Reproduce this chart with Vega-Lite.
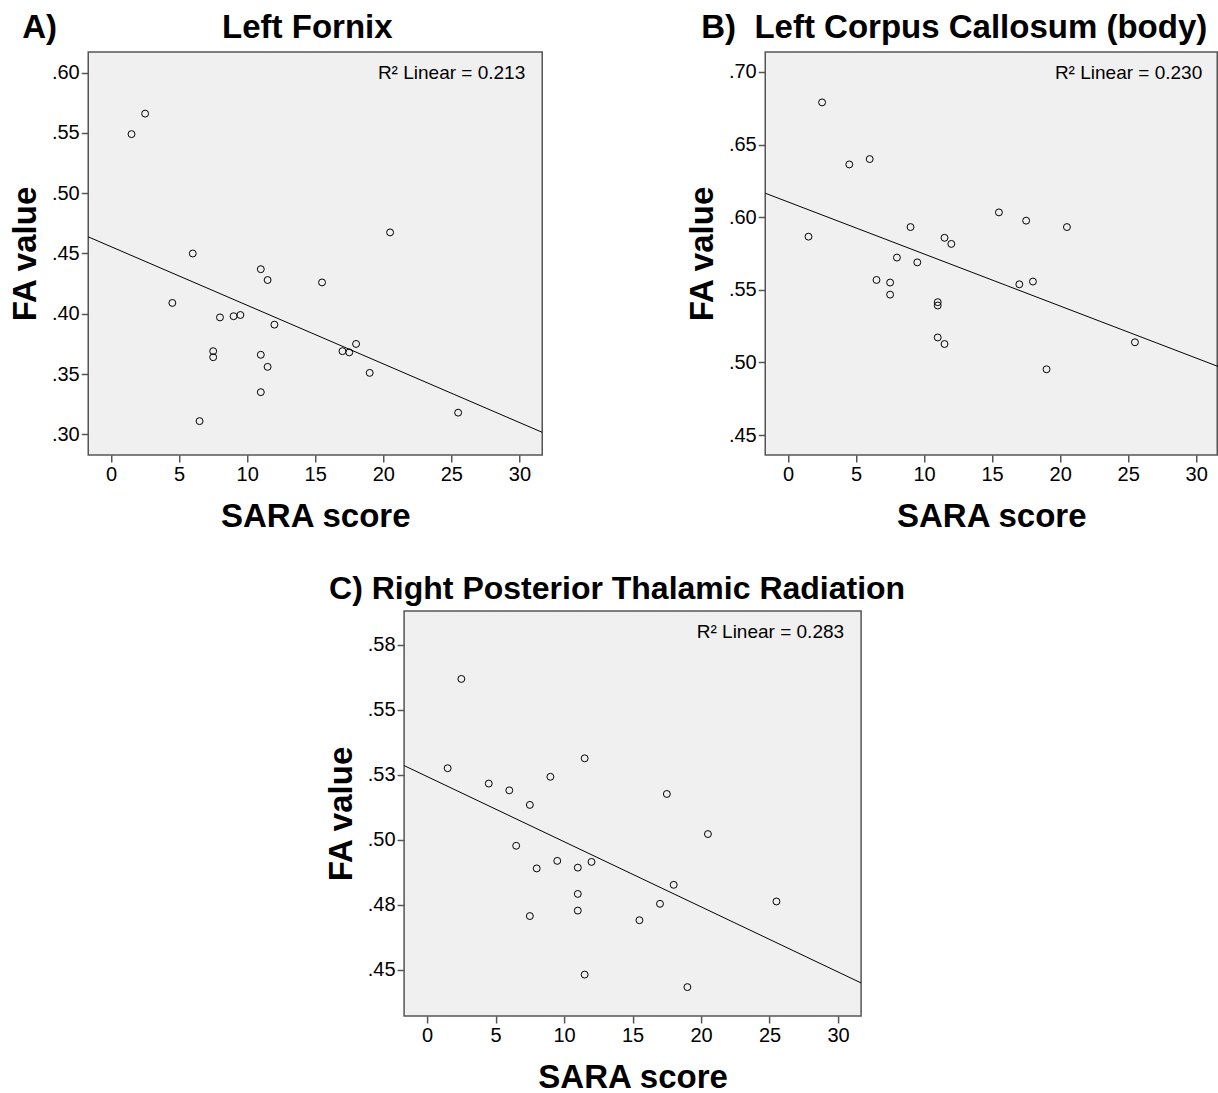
{
  "$schema": "https://vega.github.io/schema/vega-lite/v6.json",
  "background": "white",
  "padding": {"left": 8, "top": 11, "right": 0, "bottom": 0},
  "datasets": {
    "A_pts": [
      {"sara": 1.5, "fa": 0.549}, {"sara": 2.5, "fa": 0.566}, {"sara": 4.5, "fa": 0.409},
      {"sara": 6.0, "fa": 0.450}, {"sara": 6.5, "fa": 0.311}, {"sara": 7.5, "fa": 0.369},
      {"sara": 7.5, "fa": 0.364}, {"sara": 8.0, "fa": 0.397}, {"sara": 9.0, "fa": 0.398},
      {"sara": 9.5, "fa": 0.399}, {"sara": 11.0, "fa": 0.437}, {"sara": 11.5, "fa": 0.428},
      {"sara": 11.0, "fa": 0.366}, {"sara": 11.5, "fa": 0.356}, {"sara": 11.0, "fa": 0.335},
      {"sara": 12.0, "fa": 0.391}, {"sara": 15.5, "fa": 0.426}, {"sara": 17.0, "fa": 0.369},
      {"sara": 17.5, "fa": 0.368}, {"sara": 18.0, "fa": 0.375}, {"sara": 19.0, "fa": 0.351},
      {"sara": 20.5, "fa": 0.4675}, {"sara": 25.5, "fa": 0.318}
    ],
    "A_line": [{"sara": -1.68, "fa": 0.4638}, {"sara": 31.68, "fa": 0.3017}],
    "A_r2": [{"label": "R² Linear = 0.213"}],
    "B_pts": [
      {"sara": 1.5, "fa": 0.5866}, {"sara": 2.5, "fa": 0.679}, {"sara": 4.5, "fa": 0.6363},
      {"sara": 6.0, "fa": 0.640}, {"sara": 6.5, "fa": 0.5568}, {"sara": 7.5, "fa": 0.555},
      {"sara": 7.5, "fa": 0.5467}, {"sara": 8.0, "fa": 0.5722}, {"sara": 9.0, "fa": 0.5932},
      {"sara": 9.5, "fa": 0.5689}, {"sara": 11.0, "fa": 0.5415}, {"sara": 11.0, "fa": 0.5392},
      {"sara": 11.0, "fa": 0.5172}, {"sara": 11.5, "fa": 0.5127}, {"sara": 11.5, "fa": 0.5858},
      {"sara": 12.0, "fa": 0.5816}, {"sara": 15.5, "fa": 0.6033}, {"sara": 17.0, "fa": 0.5538},
      {"sara": 17.5, "fa": 0.5976}, {"sara": 18.0, "fa": 0.5557}, {"sara": 19.0, "fa": 0.4953},
      {"sara": 20.5, "fa": 0.5932}, {"sara": 25.5, "fa": 0.5139}
    ],
    "B_line": [{"sara": -1.68, "fa": 0.6165}, {"sara": 31.68, "fa": 0.497}],
    "B_r2": [{"label": "R² Linear = 0.230"}],
    "C_pts": [
      {"sara": 1.5, "fa": 0.5275}, {"sara": 2.5, "fa": 0.5618}, {"sara": 4.5, "fa": 0.5216},
      {"sara": 6.0, "fa": 0.519}, {"sara": 6.5, "fa": 0.4977}, {"sara": 7.5, "fa": 0.5134},
      {"sara": 7.5, "fa": 0.4707}, {"sara": 8.0, "fa": 0.489}, {"sara": 9.0, "fa": 0.5242},
      {"sara": 9.5, "fa": 0.4919}, {"sara": 11.0, "fa": 0.4893}, {"sara": 11.0, "fa": 0.4792},
      {"sara": 11.0, "fa": 0.4728}, {"sara": 11.5, "fa": 0.5313}, {"sara": 11.5, "fa": 0.4482},
      {"sara": 12.0, "fa": 0.4915}, {"sara": 15.5, "fa": 0.4691}, {"sara": 17.0, "fa": 0.4754},
      {"sara": 17.5, "fa": 0.5176}, {"sara": 18.0, "fa": 0.4827}, {"sara": 19.0, "fa": 0.4434},
      {"sara": 20.5, "fa": 0.5022}, {"sara": 25.5, "fa": 0.4763}
    ],
    "C_line": [{"sara": -1.68, "fa": 0.5285}, {"sara": 31.68, "fa": 0.445}],
    "C_r2": [{"label": "R² Linear = 0.283"}]
  },
  "vconcat": [
    {
      "hconcat": [
        {
          "width": 454, "height": 403,
          "view": {"fill": "#f0f0f0", "stroke": "#555555", "strokeWidth": 1.5},
          "title": {"text": "A)\u00a0\u00a0\u00a0\u00a0\u00a0\u00a0\u00a0\u00a0\u00a0\u00a0\u00a0\u00a0\u00a0\u00a0\u00a0\u00a0\u00a0 Left Fornix", "anchor": "start", "frame": "group", "dx": -66, "offset": -19, "baseline": "alphabetic", "fontSize": 33},
          "layer": [
            {
              "data": {"name": "A_pts"},
              "mark": {"type": "point", "shape": "circle", "filled": false, "stroke": "black", "strokeWidth": 1, "size": 48, "opacity": 1},
              "encoding": {
                "x": {"field": "sara", "type": "quantitative", "scale": {"domain": [-1.68, 31.68], "nice": false, "zero": false}, "axis": {"title": "SARA score", "values": [0, 5, 10, 15, 20, 25, 30]}},
                "y": {"field": "fa", "type": "quantitative", "scale": {"domain": [0.2829, 0.6171], "nice": false, "zero": false}, "axis": {"title": "FA value", "values": [0.30, 0.35, 0.40, 0.45, 0.50, 0.55, 0.60], "labelExpr": "substring(format(datum.value + 0.0001, '.2f'), 1)"}}
              }
            },
            {
              "data": {"name": "A_line"},
              "mark": {"type": "line", "color": "black", "strokeWidth": 1},
              "encoding": {"x": {"field": "sara", "type": "quantitative"}, "y": {"field": "fa", "type": "quantitative"}}
            },
            {
              "data": {"name": "A_r2"},
              "mark": {"type": "text", "align": "right", "baseline": "alphabetic", "dx": -17, "dy": 27, "fontSize": 19, "color": "black"},
              "encoding": {"x": {"datum": 31.68}, "y": {"datum": 0.6171}, "text": {"field": "label"}}
            }
          ]
        },
        {
          "width": 452, "height": 403,
          "view": {"fill": "#f0f0f0", "stroke": "#555555", "strokeWidth": 1.5},
          "title": {"text": "B)\u00a0 Left Corpus Callosum (body)", "anchor": "start", "frame": "group", "dx": -64, "offset": -19, "baseline": "alphabetic", "fontSize": 33},
          "layer": [
            {
              "data": {"name": "B_pts"},
              "mark": {"type": "point", "shape": "circle", "filled": false, "stroke": "black", "strokeWidth": 1, "size": 48, "opacity": 1},
              "encoding": {
                "x": {"field": "sara", "type": "quantitative", "scale": {"domain": [-1.68, 31.55], "nice": false, "zero": false}, "axis": {"title": "SARA score", "values": [0, 5, 10, 15, 20, 25, 30]}},
                "y": {"field": "fa", "type": "quantitative", "scale": {"domain": [0.4363, 0.7137], "nice": false, "zero": false}, "axis": {"title": "FA value", "values": [0.45, 0.50, 0.55, 0.60, 0.65, 0.70], "labelExpr": "substring(format(datum.value + 0.0001, '.2f'), 1)"}}
              }
            },
            {
              "data": {"name": "B_line"},
              "mark": {"type": "line", "color": "black", "strokeWidth": 1},
              "encoding": {"x": {"field": "sara", "type": "quantitative"}, "y": {"field": "fa", "type": "quantitative"}}
            },
            {
              "data": {"name": "B_r2"},
              "mark": {"type": "text", "align": "right", "baseline": "alphabetic", "dx": -15, "dy": 27, "fontSize": 19, "color": "black"},
              "encoding": {"x": {"datum": 31.55}, "y": {"datum": 0.7137}, "text": {"field": "label"}}
            }
          ]
        }
      ]
    },
    {
      "width": 457, "height": 405,
      "view": {"fill": "#f0f0f0", "stroke": "#555555", "strokeWidth": 1.5},
      "title": {"text": "C) Right Posterior Thalamic Radiation", "anchor": "start", "frame": "group", "dx": -75, "offset": -20, "baseline": "alphabetic"},
      "layer": [
        {
          "data": {"name": "C_pts"},
          "mark": {"type": "point", "shape": "circle", "filled": false, "stroke": "black", "strokeWidth": 1, "size": 48, "opacity": 1},
          "encoding": {
            "x": {"field": "sara", "type": "quantitative", "scale": {"domain": [-1.68, 31.68], "nice": false, "zero": false}, "axis": {"title": "SARA score", "values": [0, 5, 10, 15, 20, 25, 30]}},
            "y": {"field": "fa", "type": "quantitative", "scale": {"domain": [0.4323, 0.5879], "nice": false, "zero": false}, "axis": {"title": "FA value", "values": [0.45, 0.475, 0.50, 0.525, 0.55, 0.575], "labelExpr": "substring(format(datum.value + 0.0001, '.2f'), 1)"}}
          }
        },
        {
          "data": {"name": "C_line"},
          "mark": {"type": "line", "color": "black", "strokeWidth": 1},
          "encoding": {"x": {"field": "sara", "type": "quantitative"}, "y": {"field": "fa", "type": "quantitative"}}
        },
        {
          "data": {"name": "C_r2"},
          "mark": {"type": "text", "align": "right", "baseline": "alphabetic", "dx": -17, "dy": 27, "fontSize": 19, "color": "black"},
          "encoding": {"x": {"datum": 31.68}, "y": {"datum": 0.5879}, "text": {"field": "label"}}
        }
      ]
    }
  ],
  "spacing": 38,
  "center": true,
  "config": {
    "view": {"stroke": null},
    "font": "Liberation Sans",
    "concat": {"spacing": 140},
    "title": {"font": "Liberation Sans", "fontSize": 32, "fontWeight": "bold", "color": "black"},
    "text": {"font": "Liberation Sans"},
    "axis": {
      "labelFont": "Liberation Sans", "labelFontSize": 20, "labelColor": "black", "labelPadding": 2,
      "titleFont": "Liberation Sans", "titleFontSize": 33, "titleFontWeight": "bold", "titleColor": "black",
      "tickColor": "#555555", "tickSize": 7, "tickWidth": 1.5, "domain": false, "grid": false
    },
    "axisX": {"titlePadding": 16},
    "axisY": {"titlePadding": 9}
  }
}
